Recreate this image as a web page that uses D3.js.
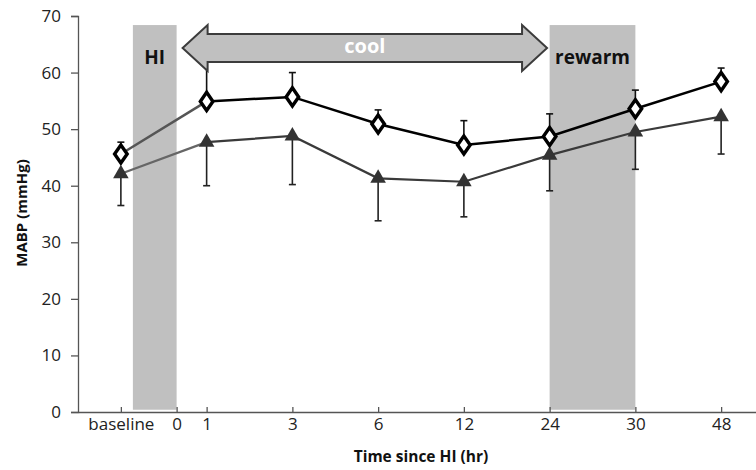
<!DOCTYPE html>
<html>
<head>
<meta charset="utf-8">
<script src="https://cdnjs.cloudflare.com/ajax/libs/d3/7.8.5/d3.min.js"></script>
<style>
  body { margin: 0; background: #fff; }
  text { font-family: "Open Sans", sans-serif; }
</style>
</head>
<body>
<svg id="chart" width="756" height="470"></svg>
<script>
// categories along the x axis (index positions)
var categories = ["baseline", "1", "3", "6", "12", "24", "30", "48"];
// extra "0" tick sits between baseline and 1
var zeroTick = {label: "0", pos: 0.65};

// diamonds: mean, error up
var diamondMean = [45.6, 54.9, 55.7, 50.9, 47.2, 48.7, 53.6, 58.4];
var diamondErr  = [2.1, 7.2, 4.3, 2.5, 4.3, 4.0, 3.3, 2.4];
// triangles: mean, error down
var triMean = [42.1, 47.7, 48.8, 41.3, 40.7, 45.4, 49.5, 52.2];
var triErr  = [5.6, 7.7, 8.6, 7.5, 6.2, 6.3, 6.6, 6.6];

var yTicks = [0, 10, 20, 30, 40, 50, 60, 70];

// shaded periods, in category index units
var bands = [
  {label: "HI", from: 0.14, to: 0.65},
  {label: "rewarm", from: 5, to: 6}
];
var bandTop = 68.4;
// cooling arrow spans these index positions
var coolArrow = {label: "cool", from: 0.72, to: 4.97, level: 64.35};

var svg = d3.select("#chart");
var x = d3.scaleLinear().domain([-0.5, 7.5]).range([78, 764]);
var y = d3.scaleLinear().domain([0, 70]).range([412, 16]);

// bands
var bandG = svg.append("g");
bandG.selectAll("rect").data(bands).enter().append("rect")
  .attr("x", function(d) { return x(d.from); })
  .attr("width", function(d) { return x(d.to) - x(d.from); })
  .attr("y", y(bandTop))
  .attr("height", y(0.4) - y(bandTop))
  .attr("fill", "#c0c0c0");
bandG.selectAll("text").data(bands).enter().append("text")
  .attr("x", function(d) { return (x(d.from) + x(d.to)) / 2; })
  .attr("y", 64)
  .attr("text-anchor", "middle")
  .attr("font-size", 19)
  .attr("font-weight", "bold")
  .attr("fill", "#111")
  .text(function(d) { return d.label; });

// axes
var axisColor = "#555";
var yAxis = svg.append("g").attr("transform", "translate(78,0)")
  .call(d3.axisLeft(y).tickValues(yTicks).tickSize(7).tickPadding(10));
yAxis.selectAll("text").attr("font-size", 17).attr("fill", "#222")
  .style("font-family", "Open Sans, sans-serif");

var xTickPos = d3.range(categories.length).concat([zeroTick.pos]);
var xLabels = categories.concat([zeroTick.label]);
var xAxis = svg.append("g").attr("transform", "translate(0,412)")
  .call(d3.axisBottom(x).tickValues(xTickPos).tickSize(-5).tickSizeOuter(0)
    .tickFormat(function(d, i) { return xLabels[i]; }));
xAxis.selectAll("text").attr("font-size", 17).attr("fill", "#222")
  .attr("y", 6).style("font-family", "Open Sans, sans-serif");
svg.selectAll(".domain, .tick line").attr("stroke", axisColor).attr("stroke-width", 1.3);

// axis titles
svg.append("text")
  .attr("transform", "translate(27,213) rotate(-90)")
  .attr("text-anchor", "middle")
  .attr("font-size", 15).attr("font-weight", "bold").attr("fill", "#111")
  .text("MABP (mmHg)");
svg.append("text")
  .attr("x", 421).attr("y", 462)
  .attr("text-anchor", "middle")
  .attr("font-size", 15.5).attr("font-weight", "bold").attr("fill", "#111")
  .text("Time since HI (hr)");

function rows(means, errs) {
  return means.map(function(m, i) { return {i: i, v: m, e: errs[i]}; });
}
var dRows = rows(diamondMean, diamondErr);
var tRows = rows(triMean, triErr);

// error bars
function errorBars(data, dir, color) {
  var g = svg.append("g").attr("stroke", color).attr("stroke-width", 1.6);
  g.selectAll("line.v").data(data).enter().append("line")
    .attr("x1", function(d) { return x(d.i); })
    .attr("x2", function(d) { return x(d.i); })
    .attr("y1", function(d) { return y(d.v); })
    .attr("y2", function(d) { return y(d.v + dir * d.e); });
  g.selectAll("line.c").data(data).enter().append("line")
    .attr("x1", function(d) { return x(d.i) - 3.5; })
    .attr("x2", function(d) { return x(d.i) + 3.5; })
    .attr("y1", function(d) { return y(d.v + dir * d.e); })
    .attr("y2", function(d) { return y(d.v + dir * d.e); });
}
errorBars(tRows, -1, "#222");
errorBars(dRows, 1, "#111");

var line = d3.line()
  .x(function(d) { return x(d.i); })
  .y(function(d) { return y(d.v); });

// first segment (over the HI period) is lighter
svg.append("path").datum(tRows.slice(0, 2)).attr("d", line)
  .attr("fill", "none").attr("stroke", "#666").attr("stroke-width", 2.2);
svg.append("path").datum(tRows.slice(1)).attr("d", line)
  .attr("fill", "none").attr("stroke", "#3a3a3a").attr("stroke-width", 2.2);
svg.append("path").datum(dRows.slice(0, 2)).attr("d", line)
  .attr("fill", "none").attr("stroke", "#555").attr("stroke-width", 2.5);
svg.append("path").datum(dRows.slice(1)).attr("d", line)
  .attr("fill", "none").attr("stroke", "#000").attr("stroke-width", 2.5);

// markers
svg.append("g").selectAll("path").data(tRows).enter().append("path")
  .attr("d", d3.symbol().type(d3.symbolTriangle).size(105))
  .attr("transform", function(d) { return "translate(" + x(d.i) + "," + y(d.v) + ")"; })
  .attr("fill", "#333");
svg.append("g").selectAll("path").data(dRows).enter().append("path")
  .attr("d", d3.symbol().type(d3.symbolDiamond).size(95))
  .attr("transform", function(d) { return "translate(" + x(d.i) + "," + y(d.v) + ") scale(1.2,1)"; })
  .attr("fill", "#fff").attr("stroke", "#000").attr("stroke-width", 3);

// double-headed cool arrow
var ax0 = x(coolArrow.from), ax1 = x(coolArrow.to), ay = y(coolArrow.level);
var head = 25, headH = 23, shaftH = 14;
var pts = [
  [ax0, ay], [ax0 + head, ay - headH], [ax0 + head, ay - shaftH],
  [ax1 - head, ay - shaftH], [ax1 - head, ay - headH], [ax1, ay],
  [ax1 - head, ay + headH], [ax1 - head, ay + shaftH],
  [ax0 + head, ay + shaftH], [ax0 + head, ay + headH]
];
svg.append("path")
  .attr("d", d3.line()(pts) + "Z")
  .attr("fill", "#c0c0c0").attr("stroke", "#3c3c3c").attr("stroke-width", 2);
svg.append("text")
  .attr("x", (ax0 + ax1) / 2).attr("y", ay + 5)
  .attr("text-anchor", "middle")
  .attr("font-size", 20).attr("font-weight", "bold").attr("fill", "#fff")
  .text(coolArrow.label);
</script>
</body>
</html>
